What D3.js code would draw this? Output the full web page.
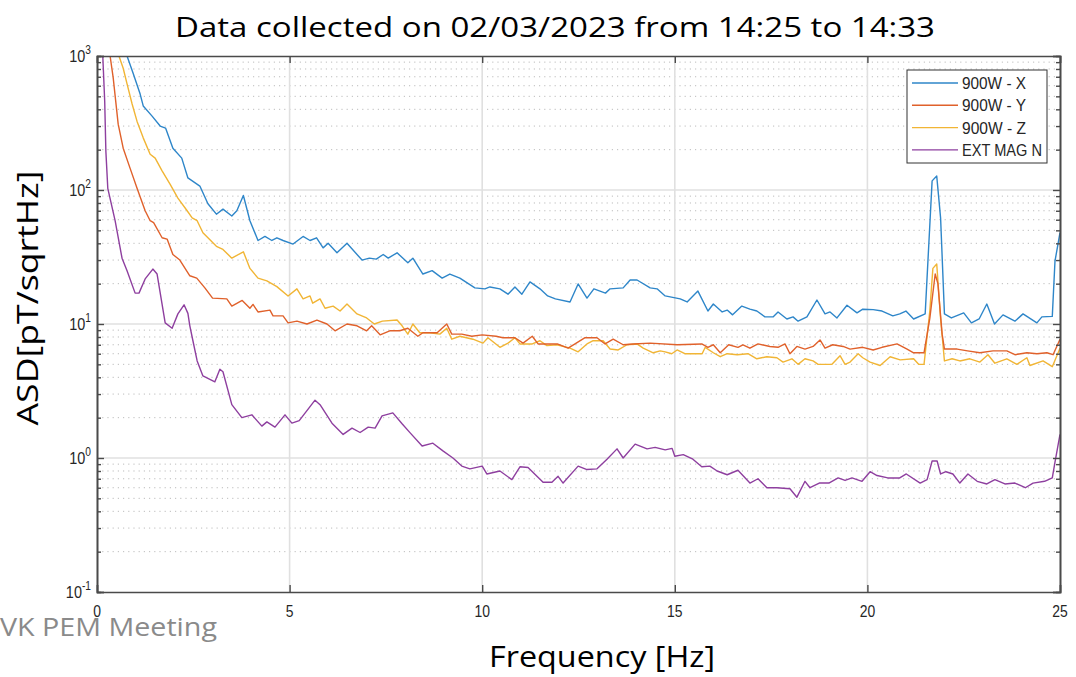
<!DOCTYPE html>
<html><head><meta charset="utf-8">
<script src="https://cdn.jsdelivr.net/npm/d3@7"></script>
<style>body{margin:0;background:#fff}svg{display:block}</style>
</head><body>
<script>
// ---- data ----
const title = "Data collected on 02/03/2023 from 14:25 to 14:33";
const xLabel = "Frequency [Hz]";
const yLabel = "ASD[pT/sqrtHz]";
const footer = "VK PEM Meeting";
const xTicks = [0, 5, 10, 15, 20, 25];
const yTickExps = [-1, 0, 1, 2, 3];
const seriesNames = ["900W - X", "900W - Y", "900W - Z", "EXT MAG N"];
const seriesColors = ["#2e86c9", "#e0612b", "#f1b535", "#8e3f9f"];

const freqX = [0.5,0.78,0.94,1.12,1.2,1.43,1.64,1.78,1.97,2.2,2.36,2.67,2.88,3.1,3.27,3.5,3.63,3.8,3.97,4.18,4.36,4.54,4.67,4.83,5.09,5.35,5.53,5.7,5.87,6.0,6.23,6.49,6.88,7.07,7.25,7.43,7.56,7.79,8.07,8.2,8.46,8.7,8.96,9.16,9.42,9.81,10.07,10.2,10.46,10.67,10.85,11.03,11.24,11.5,11.7,11.9,12.28,12.49,12.72,12.9,13.2,13.32,13.66,13.84,14.02,14.36,14.54,14.75,15.14,15.32,15.6,15.86,16.0,16.23,16.36,16.5,16.74,16.95,17.13,17.34,17.55,17.68,17.91,18.07,18.2,18.43,18.69,18.9,19.03,19.21,19.47,19.73,19.88,20.15,20.38,20.66,20.84,21.0,21.2,21.5,21.68,21.8,21.9,22.0,22.18,22.5,22.7,22.9,23.1,23.3,23.52,23.83,24.04,24.4,24.53,24.8,24.87,25.0];
const asdX = [2500,1000,740,520,424,356,300,290,205,173,123,107,79,66,72,64,70,91,59,42,45,42,44,42,39.5,45,42,44,37,40,34,40,30,31,30.5,33,31,34,28.6,31,23.6,25,22,23.6,22,18.6,18.3,18.9,18.3,16.7,18.9,16.7,20.6,18.3,16.2,15.4,14.6,19.9,15.6,18.3,17,18.3,18.6,21.3,21.3,18.6,18.3,16.2,15.4,14.6,17.6,12.5,14.1,12.3,12.7,11.7,13.6,12.9,12.5,11.3,11.3,12.3,10.9,11.3,10.5,11.3,15.1,11.9,12.3,11.1,13.8,12.1,12.9,12.8,12.5,11.5,11.9,12.5,10.9,11.9,117,127,62,11.9,11.1,12.1,10.2,10.9,14.1,10,11.7,10.5,11.9,10.2,11.3,11.4,29.5,48];

const freqY = [0.2,0.34,0.42,0.55,0.68,0.86,1.04,1.25,1.38,1.47,1.69,1.82,1.97,2.15,2.41,2.59,2.8,3.0,3.37,3.5,3.77,3.97,4.05,4.18,4.49,4.57,4.83,4.96,5.19,5.45,5.71,5.97,6.18,6.49,6.75,7.0,7.13,7.35,7.6,7.86,8.07,8.33,8.46,8.83,9.08,9.21,9.47,9.73,10.0,10.36,10.54,10.85,11.06,11.3,11.45,11.95,12.23,12.41,12.67,12.98,13.19,13.4,13.66,13.92,14.36,15.06,15.7,15.86,16.0,16.18,16.4,16.64,16.77,16.95,17.16,17.47,17.68,17.86,17.99,18.17,18.38,18.59,18.77,18.9,19.1,19.37,19.55,19.88,20.15,20.38,20.77,21.03,21.2,21.47,21.62,21.76,21.83,21.94,22.0,22.33,22.6,22.92,23.26,23.62,23.83,24.14,24.4,24.66,24.82,25.0];
const asdY = [3000,1000,690,310,205,145,103,70,59,57,44,43,33,30,22.9,22,18.6,15.6,15.4,13.6,15,13.1,14,12.3,12.7,11.5,11.5,10.2,10.5,10,10.7,10,8.9,10,9.7,8.9,9.7,8.3,8.9,8.9,9.3,8.1,8.6,8.6,10,8.4,8.4,8.1,8.3,8.1,7.9,7.9,7.2,8.1,7.1,7.1,6.6,7.1,7.9,7.9,7.1,7.7,7.0,7.1,7.2,7.0,7.1,6.7,7.0,6.1,7.0,6.7,7.0,6.6,7.1,6.8,6.7,7.1,6.0,6.8,6.5,6.8,7.6,6.6,7.0,6.8,6.5,6.7,6.4,6.7,7.1,6.5,6.1,6.1,11,23.6,20,8.4,6.5,6.5,6.3,6.1,6.3,6.3,5.9,6.1,6.0,6.1,5.9,7.7];

const freqZ = [0.4,0.57,0.68,0.78,0.91,1.04,1.2,1.38,1.51,1.69,1.9,2.1,2.34,2.47,2.6,2.75,3.1,3.27,3.5,3.8,3.97,4.18,4.41,4.67,4.96,5.19,5.35,5.53,5.6,5.79,5.92,6.13,6.31,6.49,6.75,7.0,7.2,7.41,7.79,7.92,8.07,8.2,8.38,8.64,8.9,9.08,9.21,9.42,9.76,10.02,10.15,10.46,10.67,10.85,10.98,11.3,11.5,11.68,11.94,12.28,12.49,12.72,12.88,13.14,13.32,13.53,13.76,14.02,14.18,14.44,14.62,14.75,14.92,15.06,15.26,15.71,15.79,16.0,16.18,16.36,16.62,16.9,17.13,17.39,17.65,17.81,18.04,18.2,18.38,18.59,18.72,19.08,19.29,19.42,19.55,19.76,19.88,20.07,20.33,20.59,20.85,21.2,21.33,21.47,21.62,21.7,21.8,21.9,22.0,22.2,22.4,22.66,22.92,23.13,23.31,23.62,23.88,24.14,24.22,24.56,24.8,25.0];
const asdZ = [3000,1000,810,620,440,325,245,185,173,139,110,87,70,62,59,48,38,36,31,34.6,26,22,21,19,16.2,18.3,15.4,16.2,14.3,15.4,13.1,13.6,12.5,14.1,11.9,11.1,10,10.5,10.7,9.7,8.4,10,8.6,8.6,8.4,9.3,7.7,8.1,7.7,7.2,7.9,6.7,7.2,7.9,7.1,7.1,7.5,6.9,7.0,6.6,6.2,7.1,7.5,7.5,6.5,6.4,7.0,7.1,6.6,6.1,6.3,6.2,6.0,6.4,6.0,6.0,6.7,6.1,5.7,6.0,5.9,6.0,5.5,5.7,5.6,5.2,5.5,5.0,5.5,5.3,5.0,5.0,5.8,5.0,5.2,6.0,5.6,5.2,4.9,5.7,5.4,5.5,5.0,5.0,12.5,26,28,11,5.3,5.5,5.3,5.5,5.2,5.9,5.1,5.5,5.0,5.6,4.9,5.3,4.8,6.6];

const freqN = [0.1,0.15,0.2,0.23,0.28,0.47,0.65,0.78,0.99,1.09,1.25,1.45,1.56,1.77,1.95,2.1,2.26,2.36,2.41,2.49,2.6,2.75,3.06,3.19,3.27,3.5,3.76,4.02,4.28,4.41,4.62,4.88,5.06,5.25,5.66,5.79,6.1,6.39,6.62,6.83,7.04,7.22,7.4,7.68,7.92,8.13,8.44,8.72,8.98,9.24,9.47,9.68,10.0,10.12,10.46,10.77,10.98,11.19,11.58,11.81,11.97,12.1,12.49,12.72,12.98,13.24,13.5,13.66,13.97,14.28,14.49,14.75,14.93,15.0,15.22,15.47,15.7,15.91,16.1,16.36,16.64,16.95,17.16,17.39,17.65,17.99,18.17,18.38,18.51,18.75,19.0,19.24,19.42,19.6,19.86,20.07,20.25,20.53,20.84,21.01,21.37,21.55,21.68,21.81,21.9,22.04,22.22,22.4,22.61,22.85,23.1,23.31,23.57,23.83,24.1,24.3,24.6,24.8,24.87,25.0];
const asdN = [3000,1000,460,195,103,59,31,25,17,17,21.7,25.7,23.6,10.2,9.3,11.9,13.9,12,9.7,7.5,5.3,4.1,3.7,4.6,4.4,2.5,2.0,2.1,1.73,1.86,1.7,2.1,1.82,1.9,2.7,2.5,1.82,1.5,1.67,1.55,1.7,1.67,2.06,2.17,1.8,1.54,1.23,1.29,1.13,1.0,0.87,0.83,0.87,0.76,0.8,0.69,0.86,0.85,0.66,0.66,0.73,0.65,0.87,0.82,0.83,0.98,1.17,1.0,1.27,1.17,1.2,1.15,1.18,1.03,1.06,0.98,0.86,0.87,0.8,0.75,0.81,0.65,0.7,0.6,0.6,0.59,0.51,0.67,0.6,0.65,0.65,0.71,0.68,0.71,0.67,0.79,0.74,0.71,0.71,0.76,0.65,0.69,0.95,0.95,0.76,0.79,0.76,0.65,0.76,0.67,0.64,0.69,0.64,0.65,0.6,0.65,0.67,0.71,0.93,1.5];

const seriesFreqs = [freqX, freqY, freqZ, freqN];
const seriesVals = [asdX, asdY, asdZ, asdN];

// ---- drawing ----
const W = 1076, H = 677;
const L = 97, R = 1060, T = 56, B = 592;
const svg = d3.select("body").append("svg").attr("width", W).attr("height", H);
const x = d3.scaleLinear().domain([0, 25]).range([L, R]);
const y = d3.scaleLog().domain([0.1, 1000]).range([B, T]);
const axisCol = "#4a4a4a";
const tickFont = "'Liberation Sans',Arial,sans-serif";

// minor grid (dotted)
const minorVals = [];
yTickExps.slice(0, -1).forEach(e => { for (let m = 2; m <= 9; m++) minorVals.push(m * Math.pow(10, e)); });
svg.append("g").selectAll("line").data(minorVals).join("line")
  .attr("x1", L).attr("x2", R).attr("y1", d => y(d)).attr("y2", d => y(d))
  .attr("stroke", "#bcbcbc").attr("stroke-width", 1).attr("stroke-dasharray", "1.2,4");
// major grid
svg.append("g").selectAll("line").data(yTickExps.slice(1, -1)).join("line")
  .attr("x1", L).attr("x2", R).attr("y1", d => y(Math.pow(10, d))).attr("y2", d => y(Math.pow(10, d)))
  .attr("stroke", "#e0e0e0").attr("stroke-width", 1.6);
svg.append("g").selectAll("line").data(xTicks.slice(1, -1)).join("line")
  .attr("y1", T).attr("y2", B).attr("x1", d => x(d)).attr("x2", d => x(d))
  .attr("stroke", "#e0e0e0").attr("stroke-width", 1.6);

// series
svg.append("clipPath").attr("id", "clip").append("rect")
  .attr("x", L).attr("y", T).attr("width", R - L).attr("height", B - T);
const line = d3.line().x(d => x(d[0])).y(d => y(d[1]));
const gLines = svg.append("g").attr("clip-path", "url(#clip)");
[3, 2, 1, 0].forEach(i => {
  const pts = seriesFreqs[i].map((f, k) => [f, seriesVals[i][k]]);
  gLines.append("path").datum(pts).attr("d", line)
    .attr("fill", "none").attr("stroke", seriesColors[i]).attr("stroke-width", 1.4)
    .attr("stroke-linejoin", "round");
});

// axes via d3 axes (inward ticks)
const yMajor = yTickExps.map(e => Math.pow(10, e));
const yLeft = d3.axisLeft(y).tickValues(yMajor).tickSize(-7).tickFormat("");
const yLeftMinor = d3.axisLeft(y).tickValues(minorVals).tickSize(-4).tickFormat("");
const yRight = d3.axisRight(y).tickValues(yMajor).tickSize(-7).tickFormat("");
const yRightMinor = d3.axisRight(y).tickValues(minorVals).tickSize(-4).tickFormat("");
const xBottom = d3.axisBottom(x).tickValues(xTicks).tickSize(-7).tickFormat("");
const xTop = d3.axisTop(x).tickValues(xTicks).tickSize(-7).tickFormat("");
function styleAxis(g) {
  g.selectAll("path").attr("stroke", axisCol).attr("stroke-width", 1.6);
  g.selectAll("line").attr("stroke", axisCol).attr("stroke-width", 1.4);
}
svg.append("g").attr("transform", `translate(${L},0)`).call(yLeftMinor).call(styleAxis);
svg.append("g").attr("transform", `translate(${L},0)`).call(yLeft).call(styleAxis);
svg.append("g").attr("transform", `translate(${R},0)`).call(yRightMinor).call(styleAxis);
svg.append("g").attr("transform", `translate(${R},0)`).call(yRight).call(styleAxis);
svg.append("g").attr("transform", `translate(0,${B})`).call(xBottom).call(styleAxis);
svg.append("g").attr("transform", `translate(0,${T})`).call(xTop).call(styleAxis);
svg.selectAll(".domain").attr("stroke", axisCol).attr("stroke-width", 1.6);

// footer watermark text
svg.append("text").attr("x", 0).attr("y", 636).text(footer)
  .attr("font-family", "'Open Sans','Noto Sans',sans-serif").attr("font-size", 26)
  .attr("fill", "#8a8a8a").attr("textLength", 217).attr("lengthAdjust", "spacingAndGlyphs");

// tick labels (condensed look via horizontal scaling)
svg.append("g").selectAll("text").data(xTicks).join("text")
  .attr("transform", d => `translate(${x(d)},617) scale(0.82,1)`).attr("text-anchor", "middle")
  .attr("font-family", tickFont).attr("font-size", 17).attr("fill", "#262626")
  .text(d => d);
const yl = svg.append("g").selectAll("text").data(yTickExps).join("text")
  .attr("transform", d => `translate(91,${y(Math.pow(10, d)) + 6}) scale(0.85,1)`).attr("text-anchor", "end")
  .attr("font-family", tickFont).attr("font-size", 17).attr("fill", "#262626");
yl.append("tspan").text("10");
yl.append("tspan").attr("dy", -8).attr("font-size", 12).text(d => d);

// legend
const lg = svg.append("g");
lg.append("rect").attr("x", 907).attr("y", 70).attr("width", 140).attr("height", 93)
  .attr("fill", "#fff").attr("stroke", "#333").attr("stroke-width", 1);
const legW = [64, 64, 64, 80];
seriesNames.forEach((n, i) => {
  const yy = 83 + i * 22.3;
  lg.append("line").attr("x1", 912).attr("x2", 958).attr("y1", yy).attr("y2", yy)
    .attr("stroke", seriesColors[i]).attr("stroke-width", 1.4);
  lg.append("text").attr("x", 962).attr("y", yy + 6).text(n)
    .attr("font-family", tickFont).attr("font-size", 16).attr("fill", "#262626")
    .attr("textLength", legW[i]).attr("lengthAdjust", "spacingAndGlyphs");
});

// titles
const bigFont = "'Open Sans','Noto Sans',sans-serif";
svg.append("text").attr("x", 555).attr("y", 37).attr("text-anchor", "middle").text(title)
  .attr("font-family", bigFont).attr("font-size", 28).attr("fill", "#000")
  .attr("textLength", 760).attr("lengthAdjust", "spacingAndGlyphs");
svg.append("text").attr("x", 602).attr("y", 667).attr("text-anchor", "middle").text(xLabel)
  .attr("font-family", bigFont).attr("font-size", 30).attr("fill", "#000")
  .attr("textLength", 226).attr("lengthAdjust", "spacingAndGlyphs");
svg.append("text").attr("transform", "translate(38,298) rotate(-90)").attr("text-anchor", "middle").text(yLabel)
  .attr("font-family", bigFont).attr("font-size", 29).attr("fill", "#000")
  .attr("textLength", 255).attr("lengthAdjust", "spacingAndGlyphs");
</script>
</body></html>
